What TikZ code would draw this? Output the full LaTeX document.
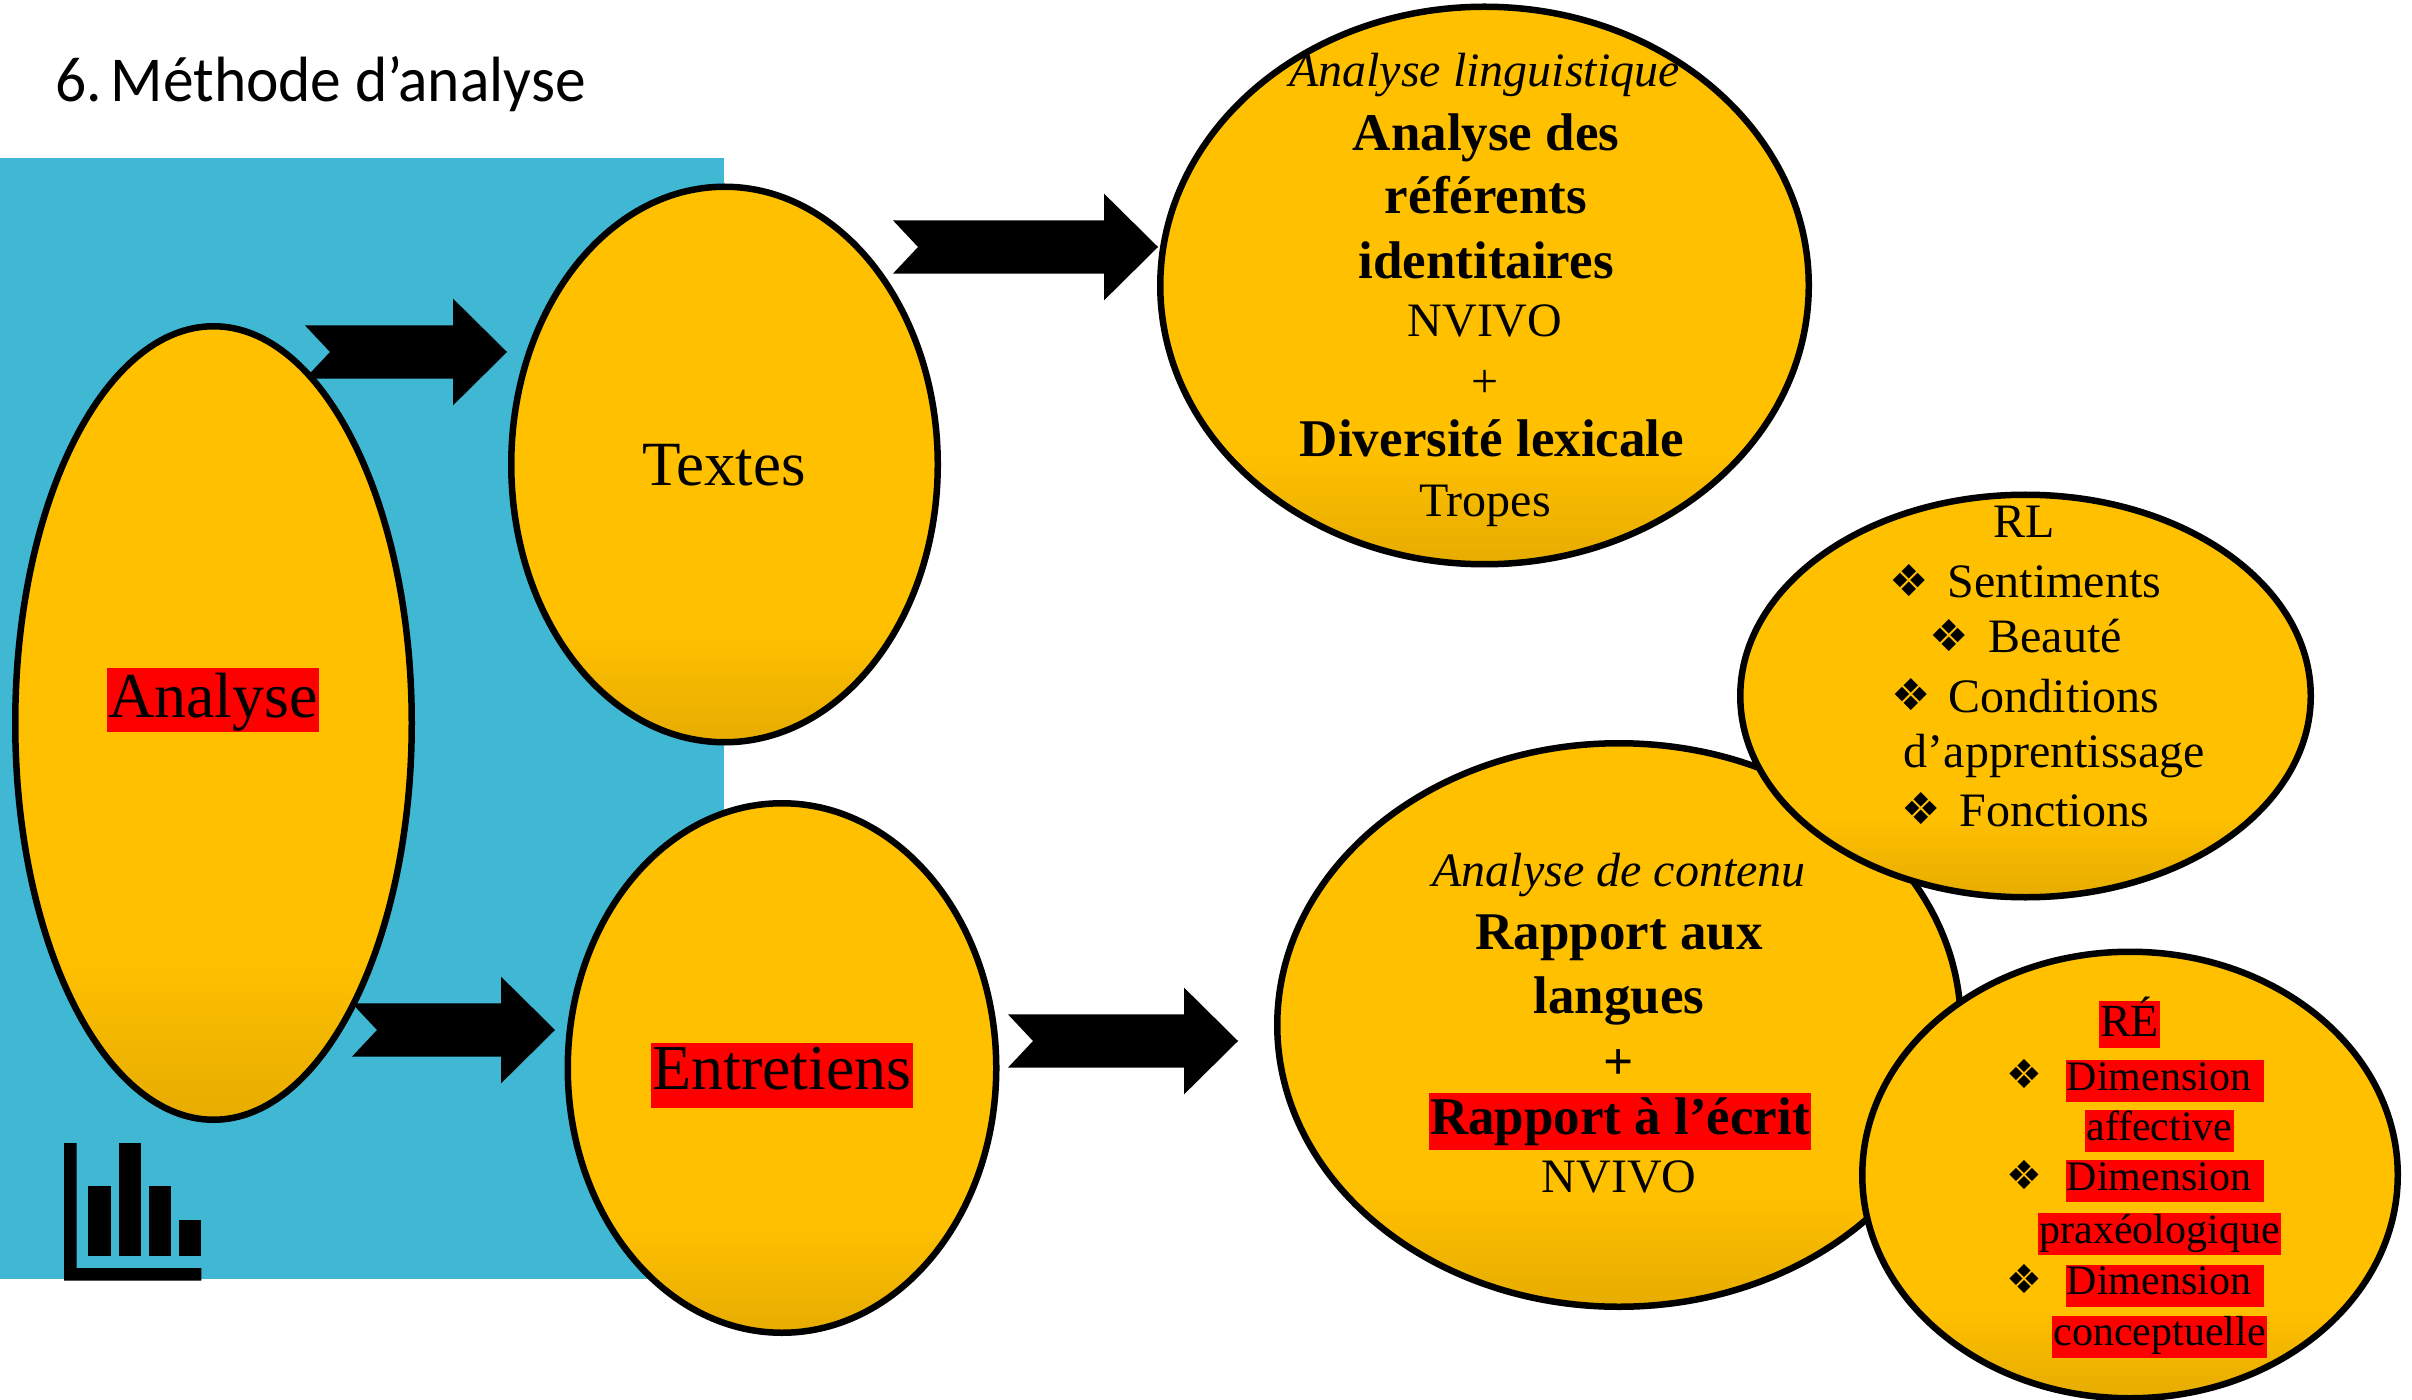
\documentclass[tikz,border=0pt]{standalone}
\usepackage{fontspec}
\setmainfont{Liberation Serif}
\newfontfamily\titlefont{Carlito}
\newfontfamily\symfont{DejaVu Sans}
\usetikzlibrary{shapes.geometric,shadows,calc}

\definecolor{panelblue}{HTML}{40B8D3}
\definecolor{bubblegold}{HTML}{FFC000}
\definecolor{bubbledark}{HTML}{E6AC00}
\pgfdeclareverticalshading{bubbleshade}{100bp}{color(0bp)=(bubbledark); color(25bp)=(bubbledark); color(35bp)=(bubblegold); color(100bp)=(bubblegold)}

\tikzset{
  bubble/.style={ellipse,draw=black,line width=3.25pt,inner sep=0pt,shading=bubbleshade,
    drop shadow={shadow xshift=0pt,shadow yshift=-1.5pt,opacity=.3}},
  textline/.style={anchor=base,inner sep=0pt},
  listmark/.style={anchor=center,inner sep=0pt,font=\symfont\fontsize{22}{26}\selectfont},
  listmarksmall/.style={anchor=center,inner sep=0pt,font=\symfont\fontsize{20}{24}\selectfont},
  hl/.style={anchor=base,fill=red,inner xsep=.5pt,inner ysep=0pt},
  hlsmall/.style={hl,text height=15pt,text depth=6pt,font=\fontsize{21}{25}\selectfont},
  bigtext/.style={font=\fontsize{32}{38}\selectfont},
  ital/.style={font=\itshape\fontsize{24}{30}\selectfont},
  boldtext/.style={font=\bfseries\fontsize{26.5}{32}\selectfont},
  plaintext/.style={font=\fontsize{24}{30}\selectfont},
  listtext/.style={font=\fontsize{24}{28}\selectfont},
}

\newcommand{\blockarrow}[2]{%
  \fill[black] let \p1=(#1), \p2=(#2) in
    (\x1,\y1+13.3pt) -- (\x2-27pt,\y2+13.3pt) -- (\x2-27pt,\y2+26.7pt) -- (\x2,\y2)
    -- (\x2-27pt,\y2-26.7pt) -- (\x2-27pt,\y2-13.3pt) -- (\x1,\y1-13.3pt)
    -- (\x1+12.5pt,\y1) -- cycle;}

\begin{document}
\begin{tikzpicture}[x=.5pt,y=-.5pt]
\useasboundingbox (0,0) rectangle (2412,1400);

\fill[panelblue] (0,158) rectangle (724,1279);

\node[anchor=base west,inner sep=0pt] (title) at (55,102) {\titlefont\fontsize{32}{38}\selectfont\scalebox{.96}[1]{6.\kern.14em Méthode d’analyse}};

\coordinate (tailTextes) at (305,352);
\coordinate (tipTextes) at (507,352);
\coordinate (tailEntretiens) at (352,1030);
\coordinate (tipEntretiens) at (555,1030);
\coordinate (tailLinguistique) at (893,247);
\coordinate (tipLinguistique) at (1158,247);
\coordinate (tailContenu) at (1008,1041);
\coordinate (tipContenu) at (1238,1041);
\blockarrow{tailTextes}{tipTextes}
\blockarrow{tailEntretiens}{tipEntretiens}
\blockarrow{tailLinguistique}{tipLinguistique}
\blockarrow{tailContenu}{tipContenu}

\foreach \xa/\ya/\xb in {88.4/1185.7/110.6,118.6/1143.3/140.8,149/1185.7/171,179/1220/201.3}
  \fill[black] (\xa,\ya) rectangle (\xb,1256);
\fill[black] (64,1143) -- (76.5,1143) -- (76.5,1268) -- (201.3,1268) -- (201.3,1280.7) -- (64,1280.7) -- cycle;

\node[bubble,minimum width=198.25pt,minimum height=396.75pt] (analyse) at (213.5,723) {};
\node[bubble,minimum width=213.25pt,minimum height=277.75pt] (textes) at (724.5,464.5) {};
\node[bubble,minimum width=214.25pt,minimum height=264.75pt] (entretiens) at (782,1068) {};
\node[bubble,minimum width=324.25pt,minimum height=278.75pt] (linguistique) at (1484.5,285.5) {};
\node[bubble,minimum width=341.75pt,minimum height=281.75pt] (contenu) at (1619,1025) {};
\node[bubble,minimum width=285.25pt,minimum height=201.25pt] (rl) at (2025.5,696) {};
\node[bubble,minimum width=267.75pt,minimum height=223.25pt] (re) at (2130,1175) {};

\node[hl,bigtext,text height=24.5pt,text depth=7.5pt] (labelAnalyse) at (213,717) {Analyse};
\node[textline,font=\fontsize{31.5}{38}\selectfont] (labelTextes) at (724,486) {Textes};
\node[hl,font=\fontsize{32}{38}\selectfont,text height=23pt,text depth=9.5pt,minimum width=130pt] (labelEntretiens) at (782,1089) {Entretiens};

\node[textline,ital] (ling1) at (1484.5,86.5) {Analyse linguistique};
\node[textline,boldtext] (ling2) at (1486,150.5) {Analyse des};
\node[textline,boldtext] (ling3) at (1486,213.5) {référents};
\node[textline,boldtext] (ling4) at (1486,278.5) {identitaires};
\node[textline,plaintext] (ling5) at (1485,337) {NVIVO};
\node[textline,plaintext] (ling6) at (1485,398) {+};
\node[textline,boldtext] (ling7) at (1492,456.5) {Diversité lexicale};
\node[textline,plaintext] (ling8) at (1485,516.5) {Tropes};

\node[textline,ital] (cont1) at (1619,886) {Analyse de contenu};
\node[textline,boldtext] (cont2) at (1619,949) {Rapport aux};
\node[textline,boldtext] (cont3) at (1619,1013.5) {langues};
\node[textline,boldtext] (cont4) at (1619,1079) {+};
\node[hl,boldtext,text height=20.5pt,text depth=8pt] (cont5) at (1620,1134) {Rapport à l’écrit};
\node[textline,plaintext] (cont6) at (1619,1192.5) {NVIVO};

\node[textline,listtext] (rl1) at (2024,537.5) {RL};
\node[listmark] (rlm1) at (1909,581) {❖};
\node[textline,listtext] (rl2) at (2054.5,597) {Sentiments};
\node[listmark] (rlm2) at (1949.5,636) {❖};
\node[textline,listtext] (rl3) at (2055,653) {Beauté};
\node[listmark] (rlm3) at (1911,695) {❖};
\node[textline,listtext] (rl4) at (2054,712) {Conditions};
\node[textline,listtext] (rl5) at (2054.5,767.5) {d’apprentissage};
\node[listmark] (rlm4) at (1921,809) {❖};
\node[textline,listtext] (rl6) at (2054,826) {Fonctions};

\node[hl,font=\fontsize{23}{28}\selectfont,text height=17.5pt,text depth=6pt] (re1) at (2129.5,1036) {RÉ};
\node[listmarksmall] (rem1) at (2024,1074) {❖};
\node[hlsmall] (re2) at (2165,1090) {Dimension\kern6pt};
\node[hlsmall] (re3) at (2159.5,1140) {affective};
\node[listmarksmall] (rem2) at (2024,1175) {❖};
\node[hlsmall] (re4) at (2165,1190) {Dimension\kern6pt};
\node[hlsmall] (re5) at (2159.5,1243) {praxéologique};
\node[listmarksmall] (rem3) at (2024,1279) {❖};
\node[hlsmall] (re6) at (2165,1294.5) {Dimension\kern6pt};
\node[hlsmall] (re7) at (2159.5,1345.5) {conceptuelle};
\end{tikzpicture}
\end{document}
